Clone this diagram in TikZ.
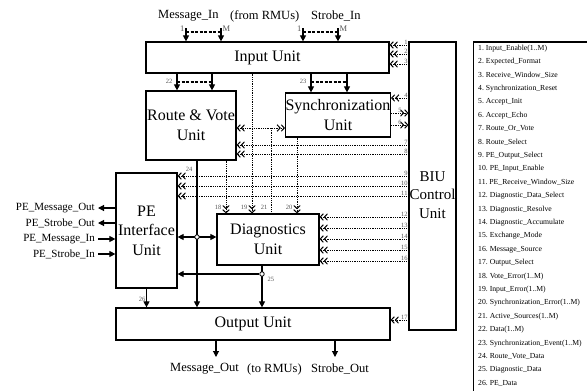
\documentclass[tikz,border=0pt]{standalone}
\usepackage{fontspec}
\setmainfont{Liberation Serif}
\usetikzlibrary{arrows.meta,calc,positioning}
\definecolor{numgray}{HTML}{555555}
\tikzset{ctltip/.tip={Straight Barb[length=3pt,width=6.5pt,line width=1pt]Straight Barb[length=3pt,width=6.5pt,line width=1pt]}}

\begin{document}
\begin{tikzpicture}[x=1pt,y=-1pt,>={Triangle[length=6pt,width=6pt]},
  unitbox/.style={draw,line width=1.2pt,inner sep=0pt,align=center,font=\fontsize{16}{19.5}\selectfont},
  sig/.style={line width=1.1pt,->},
  ctl/.style={densely dotted,line width=0.8pt,-{ctltip}},
  ctlb/.style={densely dotted,line width=0.8pt,{ctltip}-{ctltip}},
  busgap/.style={line width=1.3pt,dash pattern=on 3pt off 1.5pt},
  junc/.style={draw,circle,line width=0.8pt,inner sep=0pt,minimum size=4.5pt,fill=white},
  num/.style={font=\fontsize{6.5}{7}\selectfont,text=numgray,inner sep=0.5pt},
  idx/.style={font=\fontsize{8.5}{9}\selectfont,text=numgray,inner sep=0.5pt},
  lbl/.style={font=\fontsize{12.5}{14}\selectfont,inner sep=0pt,anchor=west},
  pinlbl/.style={font=\fontsize{11}{12}\selectfont,anchor=east,inner ysep=0pt,inner xsep=3pt},
  leg/.style={font=\fontsize{7.7}{8}\selectfont,anchor=west,inner sep=0pt}]
  \useasboundingbox (0,0) rectangle (587,391);

  % units
  \node[unitbox,minimum width=243pt,minimum height=31pt] (in) at (267.5,57.5) {Input Unit};
  \node[unitbox,minimum width=90pt,minimum height=69pt] (rv) at (191,125.5) {Route \& Vote\\Unit};
  \node[unitbox,minimum width=104pt,minimum height=44pt] (sync) at (338,115) {Synchronization\\Unit};
  \node[unitbox,minimum width=61pt,minimum height=115pt] (pe) at (146.5,230.5) {PE\\Interface\\Unit};
  \node[unitbox,minimum width=102pt,minimum height=51pt] (diag) at (268,239.5) {Diagnostics\\Unit};
  \node[unitbox,minimum width=274pt,minimum height=32pt] (out) at (253,324) {Output Unit};
  \node[unitbox,minimum width=47pt,minimum height=288pt] (biu) at (432.5,186) {};
  \node[unitbox,draw=none,font=\fontsize{15}{18.5}\selectfont] (biutxt) at ([yshift=-9pt]biu.center) {BIU\\Control\\Unit};

  % inputs from the RMUs
  \node[lbl] (msgin) at (158,16) {Message\_In};
  \node[lbl] (from) at (230,16) {(from RMUs)};
  \node[lbl] (strin) at (311,16) {Strobe\_In};
  \foreach \p/\xx in {mi1/186,mim/221,si1/303,sim/338}{
    \coordinate (\p) at (\xx,28);
    \draw[sig] (\p) -- (in.north -| \p);
  }
  \node[idx,anchor=east] (mi1t) at ([xshift=-1pt,yshift=-1pt]mi1) {1};
  \node[idx,anchor=west] (mimt) at ([xshift=1pt,yshift=-1pt]mim) {M};
  \node[idx,anchor=east] (si1t) at ([xshift=-1pt,yshift=-1pt]si1) {1};
  \node[idx,anchor=west] (simt) at ([xshift=1pt,yshift=-1pt]sim) {M};
  \draw[busgap] ([yshift=-4pt]mi1) -- ([yshift=-4pt]mim);
  \draw[busgap] ([yshift=-4pt]si1) -- ([yshift=-4pt]sim);

  % data buses 22 and 23
  \foreach \xx in {177,212} \draw[sig] (in.south -| \xx,0) -- (rv.north -| \xx,0);
  \foreach \xx in {311,347} \draw[sig] (in.south -| \xx,0) -- (sync.north -| \xx,0);
  \draw[busgap] (177,82) -- (212,82);
  \draw[busgap] (311,82) -- (347,82);
  \node[num,anchor=east] (n22) at (173,81) {22};
  \node[num,anchor=east] (n23) at (307,81) {23};

  % control lines from the BIU
  \foreach \yy/\n/\dst in {45/1/in,54/2/in,64/3/in,98/4/sync,145/7/rv,154/8/rv,
      176/9/pe,186/10/pe,196/11/pe,217/12/diag,228/13/diag,239/14/diag,
      250/15/diag,261/16/diag,320/17/out}
    \draw[ctl] (biu.west |- 0,\yy) node[num,anchor=south east] (c\n) {\n} -- (\dst.east |- 0,\yy);
  \foreach \yy/\n in {113/5,125/6}
    \draw[ctl] (sync.east |- 0,\yy) -- (biu.west |- 0,\yy) node[num,anchor=south east,xshift=-6pt] (c\n) {\n};

  % error and status lines to the diagnostics
  \coordinate (j21) at (271,128);
  \draw[ctlb] (rv.east |- j21) -- (sync.west |- j21);
  \draw[ctl] (rv.south -| 226,0) -- (diag.north -| 226,0);
  \draw[ctl] (in.south -| 252,0) -- (diag.north -| 252,0);
  \draw[densely dotted,line width=0.8pt] (j21) -- (diag.north -| j21);
  \draw[ctl] (sync.south -| 297,0) -- (diag.north -| 297,0);
  \node[num,anchor=east] (n18) at (222,207) {18};
  \node[num,anchor=east] (n19) at (248,207) {19};
  \node[num,anchor=east] (n21) at (268,207) {21};
  \node[num,anchor=east] (n20) at (293,207) {20};

  % data paths
  \draw[sig] (rv.south -| 197,0) -- (out.north -| 197,0);
  \draw[sig,<->] (pe.east |- 0,237) -- (diag.west |- 0,237);
  \node[junc] (j1) at (197,237) {};
  \draw[sig] (diag.south -| 262,0) -- (out.north -| 262,0);
  \node[junc] (j2) at (262,274) {};
  \draw[sig] (j2) -- (pe.east |- j2);
  \draw[sig] (pe.south) -- (out.north -| pe.south);
  \node[num,anchor=south] (n24) at (189,172) {24};
  \node[num,anchor=west] (n25) at (267,279) {25};
  \node[num,anchor=east] (n26) at (146,299) {26};

  % PE side
  \node[pinlbl] (pmo) at (98,208) {PE\_Message\_Out};
  \node[pinlbl] (pso) at (98,223) {PE\_Strobe\_Out};
  \node[pinlbl] (pmi) at (98,239) {PE\_Message\_In};
  \node[pinlbl] (psi) at (98,254) {PE\_Strobe\_In};
  \draw[sig] (pe.west |- pmo) -- (pmo);
  \draw[sig] (pe.west |- pso) -- (pso);
  \draw[sig] (pmi) -- (pe.west |- pmi);
  \draw[sig] (psi) -- (pe.west |- psi);

  % outputs to the RMUs
  \coordinate (mo) at (216,357);
  \coordinate (so) at (335,357);
  \draw[sig] (out.south -| mo) -- (mo);
  \draw[sig] (out.south -| so) -- (so);
  \node[lbl] (msgout) at (170,369) {Message\_Out};
  \node[lbl] (torm) at (247,369) {(to RMUs)};
  \node[lbl] (strout) at (311,369) {Strobe\_Out};

  % legend
  \draw[line width=1.5pt] (473.5,395) -- (473.5,42) -- (590,42);
  \foreach \txt [count=\i] in {Input\_Enable(1..M),Expected\_Format,Receive\_Window\_Size,
      Synchronization\_Reset,Accept\_Init,Accept\_Echo,Route\_Or\_Vote,Route\_Select,
      PE\_Output\_Select,PE\_Input\_Enable,PE\_Receive\_Window\_Size,Diagnostic\_Data\_Select,
      Diagnostic\_Resolve,Diagnostic\_Accumulate,Exchange\_Mode,Message\_Source,
      Output\_Select,Vote\_Error(1..M),Input\_Error(1..M),Synchronization\_Error(1..M),
      Active\_Sources(1..M),Data(1..M),Synchronization\_Event(1..M),Route\_Vote\_Data,
      Diagnostic\_Data,PE\_Data}
    \node[leg] (l\i) at (478,{48.5+13.4*(\i-1)}) {\i.\ \txt};
\end{tikzpicture}
\end{document}
